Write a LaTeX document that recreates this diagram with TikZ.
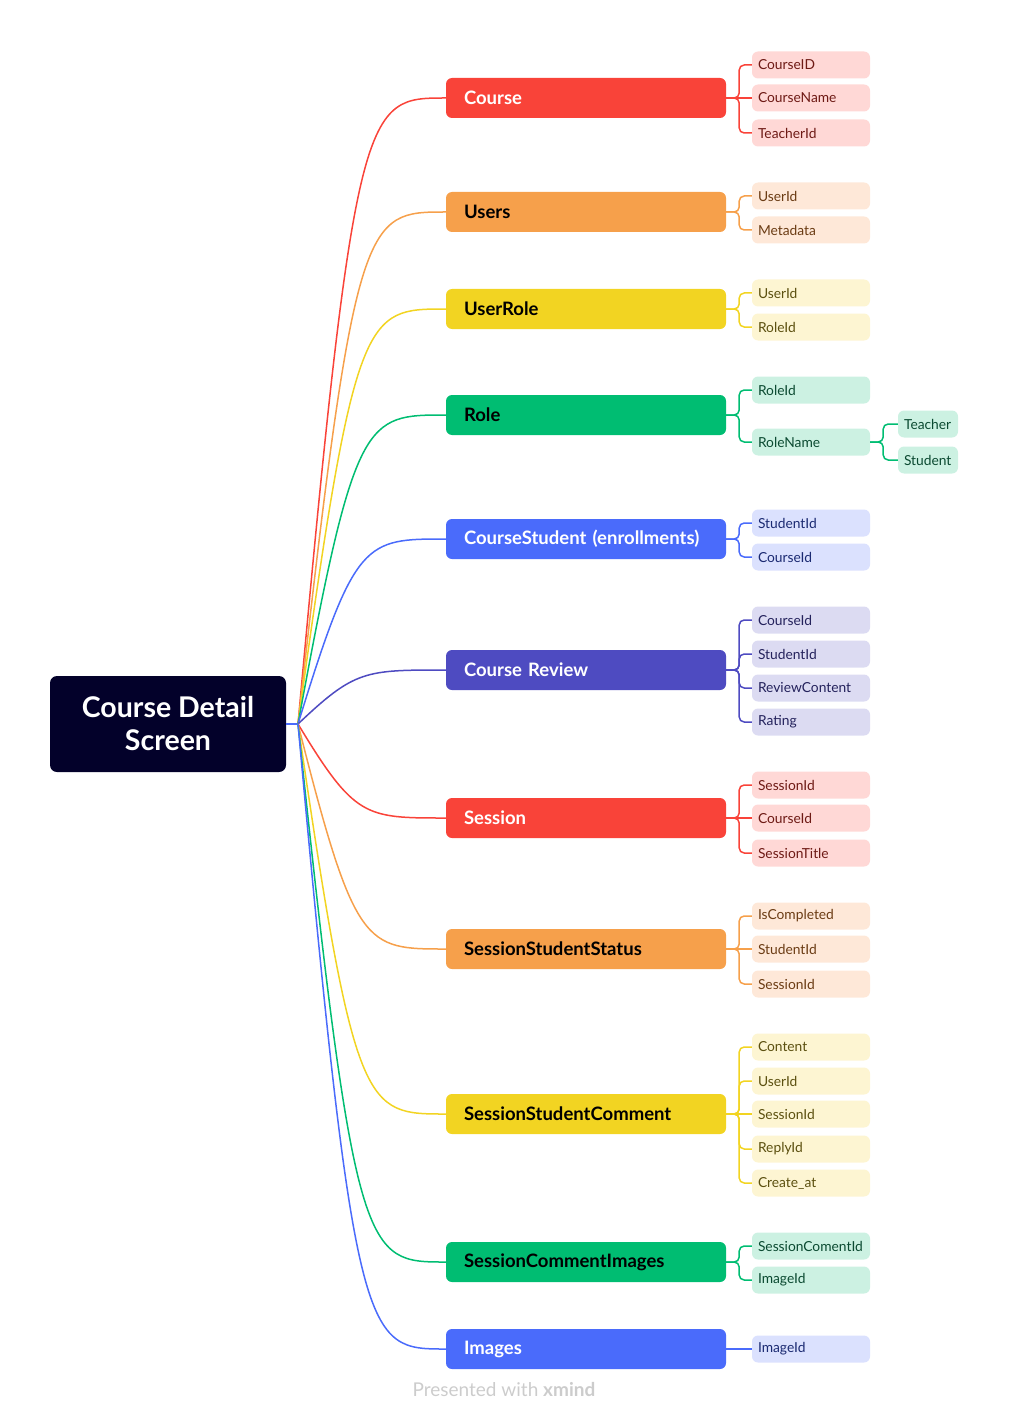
\documentclass[tikz,border=0pt]{standalone}
\usepackage{fontspec}
\setmainfont{Lato}
\usetikzlibrary{calc}

\definecolor{cred}{HTML}{F94339}
\definecolor{corange}{HTML}{F6A04B}
\definecolor{cyellow}{HTML}{F2D422}
\definecolor{cgreen}{HTML}{00BD72}
\definecolor{cblue}{HTML}{4A6BFB}
\definecolor{cindigo}{HTML}{4E4BC1}
\definecolor{lred}{HTML}{FFD8D6}
\definecolor{lorange}{HTML}{FEE8D8}
\definecolor{lyellow}{HTML}{FDF5D2}
\definecolor{lgreen}{HTML}{CCF1E2}
\definecolor{lblue}{HTML}{DBE1FE}
\definecolor{lindigo}{HTML}{DCDBF2}
\definecolor{tred}{HTML}{6E1A15}
\definecolor{torange}{HTML}{6B3C14}
\definecolor{tyellow}{HTML}{5C5010}
\definecolor{tgreen}{HTML}{0B4A31}
\definecolor{tblue}{HTML}{1B2A72}
\definecolor{tindigo}{HTML}{24225C}
\definecolor{rootbg}{HTML}{03012A}

\tikzset{
  rootbox/.style={fill=rootbg, text=white, rounded corners=7, minimum width=236,
    minimum height=96, align=center, font=\fontsize{28.5}{33}\selectfont\bfseries},
  topic/.style={fill=#1, rounded corners=6, minimum width=280, minimum height=40,
    text width=244, inner xsep=18, align=left, font=\fontsize{18.5}{20}\selectfont\bfseries},
  leaf/.style={fill=#1, rounded corners=6, minimum width=118, minimum height=27,
    text width=106, inner xsep=6, align=left, font=\fontsize{13.8}{15}\selectfont},
  subleaf/.style={leaf=#1, minimum width=60, text width=48},
  link/.style={draw=#1, line width=1.5pt},
}

\begin{document}
\begin{tikzpicture}[x=1pt,y=-1pt]
\useasboundingbox (0,0) rectangle (1009,1420);

% root
\node[rootbox] (root) at (168,724) {Course Detail\\Screen};
\coordinate (hub) at (298,724);

% topics
\node[topic=cred, text=white] (course) at (586,98) {Course};
\node[topic=corange, text=black] (users) at (586,212) {Users};
\node[topic=cyellow, text=black] (userrole) at (586,309) {UserRole};
\node[topic=cgreen, text=black] (role) at (586,415) {Role};
\node[topic=cblue, text=white] (cstudent) at (586,539) {CourseStudent (enrollments)};
\node[topic=cindigo, text=white] (review) at (586,670) {Course Review};
\node[topic=cred, text=white] (session) at (586,818) {Session};
\node[topic=corange, text=black] (sstatus) at (586,949) {SessionStudentStatus};
\node[topic=cyellow, text=black] (scomment) at (586,1114) {SessionStudentComment};
\node[topic=cgreen, text=black] (simages) at (586,1262) {SessionCommentImages};
\node[topic=cblue, text=white] (images) at (586,1349) {Images};

% fields
\node[leaf=lred, text=tred] (course1) at (811,65) {CourseID};
\node[leaf=lred, text=tred] (course2) at (811,98) {CourseName};
\node[leaf=lred, text=tred] (course3) at (811,133) {TeacherId};
\node[leaf=lorange, text=torange] (users1) at (811,196) {UserId};
\node[leaf=lorange, text=torange] (users2) at (811,230) {Metadata};
\node[leaf=lyellow, text=tyellow] (userrole1) at (811,293) {UserId};
\node[leaf=lyellow, text=tyellow] (userrole2) at (811,327) {RoleId};
\node[leaf=lgreen, text=tgreen] (role1) at (811,390) {RoleId};
\node[leaf=lgreen, text=tgreen] (role2) at (811,442) {RoleName};
\node[subleaf=lgreen, text=tgreen] (teacher) at (928,424) {Teacher};
\node[subleaf=lgreen, text=tgreen] (student) at (928,460) {Student};
\node[leaf=lblue, text=tblue] (cstudent1) at (811,523) {StudentId};
\node[leaf=lblue, text=tblue] (cstudent2) at (811,557) {CourseId};
\node[leaf=lindigo, text=tindigo] (review1) at (811,620) {CourseId};
\node[leaf=lindigo, text=tindigo] (review2) at (811,654) {StudentId};
\node[leaf=lindigo, text=tindigo] (review3) at (811,688) {ReviewContent};
\node[leaf=lindigo, text=tindigo] (review4) at (811,722) {Rating};
\node[leaf=lred, text=tred] (session1) at (811,785) {SessionId};
\node[leaf=lred, text=tred] (session2) at (811,818) {CourseId};
\node[leaf=lred, text=tred] (session3) at (811,853) {SessionTitle};
\node[leaf=lorange, text=torange] (sstatus1) at (811,916) {IsCompleted};
\node[leaf=lorange, text=torange] (sstatus2) at (811,949) {StudentId};
\node[leaf=lorange, text=torange] (sstatus3) at (811,984) {SessionId};
\node[leaf=lyellow, text=tyellow] (scomment1) at (811,1047) {Content};
\node[leaf=lyellow, text=tyellow] (scomment2) at (811,1081) {UserId};
\node[leaf=lyellow, text=tyellow] (scomment3) at (811,1114) {SessionId};
\node[leaf=lyellow, text=tyellow] (scomment4) at (811,1149) {ReplyId};
\node[leaf=lyellow, text=tyellow] (scomment5) at (811,1183) {Create\_at};
\node[leaf=lgreen, text=tgreen] (simages1) at (811,1246) {SessionComentId};
\node[leaf=lgreen, text=tgreen] (simages2) at (811,1280) {ImageId};
\node[leaf=lblue, text=tblue] (images1) at (811,1349) {ImageId};

% root to topics
\draw[link=cblue] (root.east) -- (hub);
\foreach \n/\c in {course/cred, users/corange, userrole/cyellow, role/cgreen,
    cstudent/cblue, review/cindigo, session/cred, sstatus/corange,
    scomment/cyellow, simages/cgreen, images/cblue}
  \draw[link=\c] (hub) .. controls ($(\n.west)+(-91,0)$) and ($(\n.west)+(-81,0)$) .. (\n.west);

% topics to fields (bracket)
\foreach \p/\l/\c in {course/course1/cred, course/course3/cred,
    users/users1/corange, users/users2/corange,
    userrole/userrole1/cyellow, userrole/userrole2/cyellow,
    role/role1/cgreen, role/role2/cgreen, role2/teacher/cgreen, role2/student/cgreen,
    cstudent/cstudent1/cblue, cstudent/cstudent2/cblue,
    review/review1/cindigo, review/review2/cindigo, review/review3/cindigo, review/review4/cindigo,
    session/session1/cred, session/session3/cred,
    sstatus/sstatus1/corange, sstatus/sstatus3/corange,
    scomment/scomment1/cyellow, scomment/scomment2/cyellow,
    scomment/scomment4/cyellow, scomment/scomment5/cyellow,
    simages/simages1/cgreen, simages/simages2/cgreen}
  \draw[link=\c, rounded corners=5] (\p.east) -- ++(13,0) |- (\l.west);
% straight ones
\foreach \p/\l/\c in {course/course2/cred, session/session2/cred, sstatus/sstatus2/corange,
    scomment/scomment3/cyellow, images/images1/cblue}
  \draw[link=\c] (\p.east) -- (\l.west);

% footer
\node[text=black!20, font=\fontsize{19}{22}\selectfont] (footer) at (504,1389)
  {Presented with \textbf{xmind}};
\end{tikzpicture}
\end{document}
